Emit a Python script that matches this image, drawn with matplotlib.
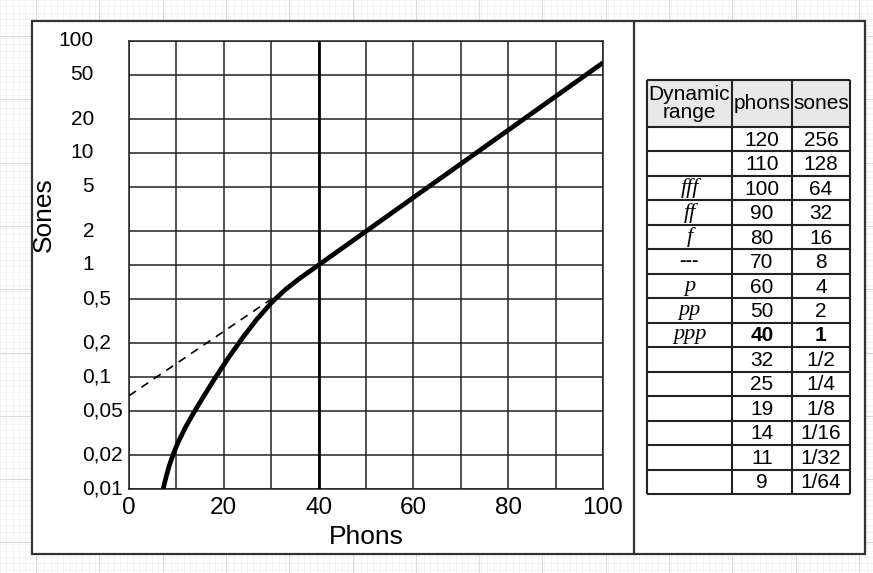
import numpy as np
import matplotlib
matplotlib.use("Agg")
import matplotlib.pyplot as plt
from matplotlib.patches import Rectangle
from matplotlib.transforms import blended_transform_factory

plt.rcParams['font.family'] = ['Liberation Sans', 'DejaVu Sans']

W, H = 873, 573

# loudness curve (phons -> sones)
phons = [7.2, 7.8, 8.5, 9.5, 10.5, 12, 13.5, 15.5, 18, 21, 24, 27, 30, 33, 36,
         40, 50, 60, 70, 80, 90, 100]
sones = [0.01, 0.0127, 0.0162, 0.0214, 0.0269, 0.0361, 0.0468, 0.0646, 0.0955,
         0.149, 0.225, 0.329, 0.458, 0.604, 0.759,
         1, 2, 4, 8, 16, 32, 64]

# dashed straight-line extension below 40 phons
dash_phons = [0, 33]
dash_sones = [0.068, 0.604]

x_ticks = [0, 20, 40, 60, 80, 100]
x_grid = [10, 30, 50, 70, 90]
y_ticks = [0.01, 0.02, 0.05, 0.1, 0.2, 0.5, 1, 2, 5, 10, 20, 50, 100]
y_labels = ['0,01', '0,02', '0,05', '0,1', '0,2', '0,5', '1', '2', '5',
            '10', '20', '50', '100']

# table on the right
table_header = ['Dynamic\nrange', 'phons', 'sones']
table_marks = ['', '', 'fff', 'ff', 'f', '---', 'p', 'pp', 'ppp',
               '', '', '', '', '', '']
table_phons = ['120', '110', '100', '90', '80', '70', '60', '50', '40',
               '32', '25', '19', '14', '11', '9']
table_sones = ['256', '128', '64', '32', '16', '8', '4', '2', '1',
               '1/2', '1/4', '1/8', '1/16', '1/32', '1/64']
bold_row = 8

fig = plt.figure(figsize=(W / 100, H / 100), dpi=100)

# background: graph paper + frame + table, in pixel coordinates
bg = fig.add_axes([0, 0, 1, 1])
bg.set_xlim(0, W)
bg.set_ylim(H, 0)
bg.axis('off')

bg.vlines(np.arange(0, W + 7, 6.33), 0, H, color='#efefef', lw=0.5, zorder=0)
bg.hlines(np.arange(0, H + 7, 6.33), 0, W, color='#efefef', lw=0.5, zorder=0)
bg.vlines(np.arange(36, W, 63.3), 0, H, color='#d9d9d9', lw=0.7, zorder=0)
bg.hlines(np.arange(36, H, 63.3), 0, W, color='#d9d9d9', lw=0.7, zorder=0)

bg.add_patch(Rectangle((32, 21), 833, 533, facecolor='white',
                       edgecolor='#333333', lw=1.6, zorder=1))
bg.vlines(634, 21, 554, color='#333333', lw=1.6, zorder=2)

# table geometry (pixels)
col_x = [647, 732, 792, 850]
top, head_h, row_h = 80, 47, 24.47
n_rows = len(table_phons)
bottom = top + head_h + n_rows * row_h

bg.add_patch(Rectangle((col_x[0], top), col_x[-1] - col_x[0], head_h,
                       facecolor='#e8e8e8', edgecolor='none', zorder=2))
row_lines = [top, top + head_h] + [top + head_h + row_h * (i + 1) for i in range(n_rows)]
bg.hlines(row_lines, col_x[0], col_x[-1], color='#222222', lw=1.5, zorder=3)
bg.vlines(col_x, top, bottom, color='#222222', lw=1.5, zorder=3)

centers = [(col_x[i] + col_x[i + 1]) / 2 for i in range(3)]
for cx, txt in zip(centers, table_header):
    bg.text(cx, top + head_h / 2, txt, ha='center', va='center', fontsize=15,
            linespacing=0.9, zorder=4)

for i in range(n_rows):
    cy = top + head_h + row_h * (i + 0.5)
    w = 'bold' if i == bold_row else 'normal'
    mark = table_marks[i]
    if mark == '---':
        bg.text(centers[0], cy, mark, ha='center', va='center', fontsize=14,
                fontweight='bold', zorder=4)
    elif mark:
        bg.text(centers[0], cy, mark, ha='center', va='center', fontsize=16,
                family='Liberation Serif', style='italic', zorder=4)
    bg.text(centers[1], cy + 1, table_phons[i], ha='center', va='center',
            fontsize=15, fontweight=w, zorder=4)
    bg.text(centers[2], cy + 1, table_sones[i], ha='center', va='center',
            fontsize=15, fontweight=w, zorder=4)

# main chart
ax = fig.add_axes([129 / W, 1 - 489 / H, 474 / W, 448 / H])
ax.set_yscale('log')
ax.set_xlim(0, 100)
ax.set_ylim(0.01, 100)

ax.set_xticks(x_ticks)
ax.set_xticks(x_grid, minor=True)
ax.set_yticks(y_ticks)
ax.yaxis.set_minor_locator(matplotlib.ticker.NullLocator())
ax.set_yticklabels([])
ax.tick_params(axis='both', which='both', length=0)
ax.tick_params(axis='x', pad=6, labelsize=17.5)
ax.grid(True, which='both', color='#222222', lw=1.1)
for s in ax.spines.values():
    s.set_color('#222222')
    s.set_linewidth(1.1)

trans = blended_transform_factory(ax.transAxes, ax.transData)
for v, lab in zip(y_ticks, y_labels):
    if v >= 1:
        ax.text(-35 / 474, v, lab, ha='right', va='center', fontsize=15,
                transform=trans)
    else:
        ax.text(-47 / 474, v, lab, ha='left', va='center', fontsize=15,
                transform=trans)

ax.axvline(40, color='black', lw=2.0, zorder=3)
ax.plot(dash_phons, dash_sones, color='black', lw=1.2, ls=(0, (5, 4)), zorder=4)
ax.plot(phons, sones, color='black', lw=3.4, solid_capstyle='butt',
        solid_joinstyle='round', zorder=5)

ax.set_xlabel('Phons', fontsize=19)
ax.xaxis.set_label_coords(0.5, -48 / 448)
ax.xaxis.label.set_va('center')
ax.set_ylabel('Sones', fontsize=19)
ax.yaxis.set_label_coords(-85 / 474, (489 - 215) / 448)
ax.yaxis.label.set_va('center')

fig.savefig('out.png', dpi=100)
